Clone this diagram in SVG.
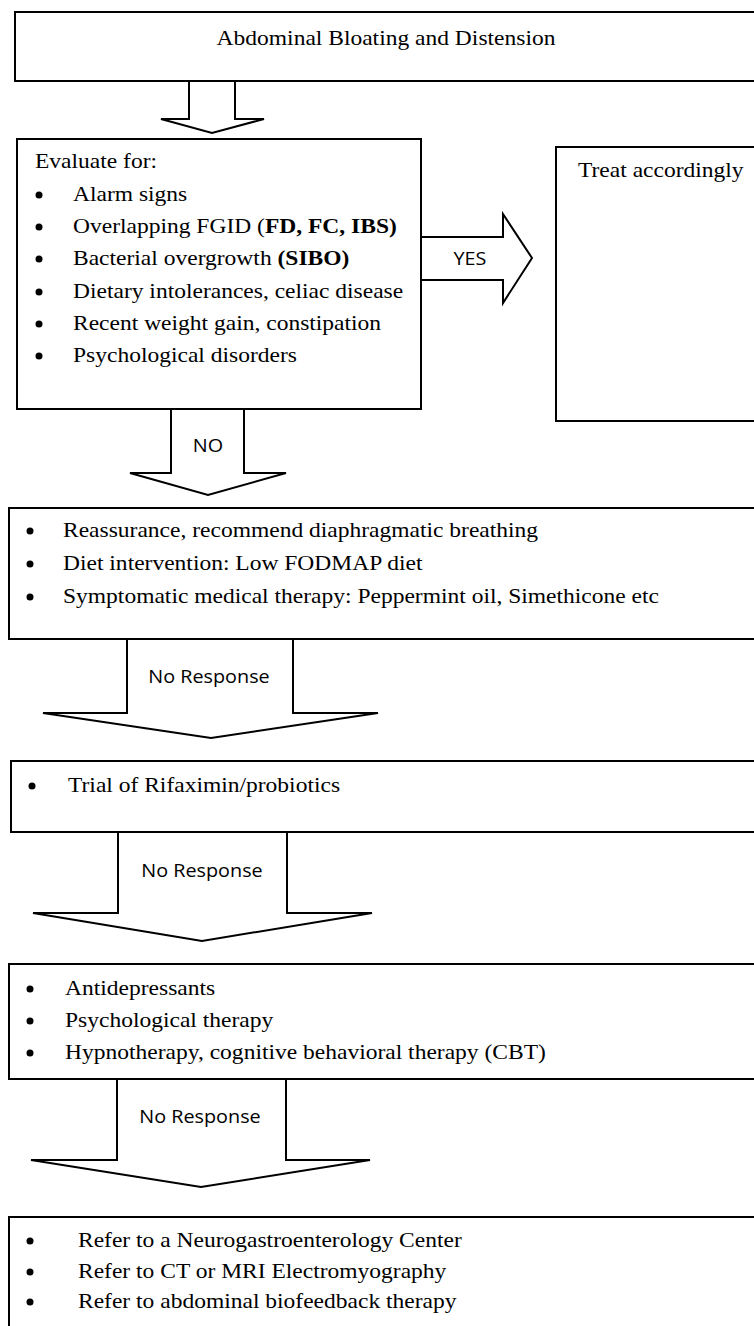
<svg xmlns="http://www.w3.org/2000/svg" width="754" height="1326" viewBox="0 0 754 1326">
<style>
.box{fill:#fff;stroke:#000;stroke-width:2}
.arr{fill:#fff;stroke:#000;stroke-width:2;stroke-linejoin:miter}
.s{font-family:"Liberation Serif","Times New Roman",serif;font-size:21px;fill:#000}
.b{font-weight:bold}
.n{font-family:"Open Sans","Noto Sans",sans-serif;font-size:18px;fill:#000;text-anchor:middle}
.dot{fill:#000}
</style>
<rect width="754" height="1326" fill="#fff"/>
<g id="connectors">
<polyline class="arr" points="189,81 189,119 161,119 212,133 264,119 235,119 235,81"/>
<polyline class="arr" points="421,237 503,237 503,214 532,258 503,303 503,280 421,280"/>
<text class="n" transform="translate(470 265) scale(1.1 1)">YES</text>
<polyline class="arr" points="171,409 171,473 130,473 208,495 286,473 244,473 244,409"/>
<text class="n" transform="translate(208 452) scale(1.1 1)">NO</text>
<polyline class="arr" points="127,639 127,713 43,713 211,738 378,713 293,713 293,639"/>
<text class="n" transform="translate(209 683) scale(1.1 1)">No Response</text>
<polyline class="arr" points="118,832 118,913 33,913 202,941 372,913 287,913 287,832"/>
<text class="n" transform="translate(202 877) scale(1.1 1)">No Response</text>
<polyline class="arr" points="117,1079 117,1160 31,1160 201,1187 370,1160 286,1160 286,1079"/>
<text class="n" transform="translate(200 1123) scale(1.1 1)">No Response</text>
</g>
<g id="start">
<rect class="box" x="15" y="12" width="760" height="69"/>
<text class="s" text-anchor="middle" transform="translate(386 45) scale(1.12 1)">Abdominal Bloating and Distension</text>
</g>
<g id="evaluate">
<rect class="box" x="17" y="139" width="404" height="270"/>
<text class="s" transform="translate(35 168) scale(1.12 1)">Evaluate for:</text>
<circle class="dot" cx="39" cy="195" r="3.5"/>
<text class="s" transform="translate(73 201) scale(1.12 1)">Alarm signs</text>
<circle class="dot" cx="39" cy="227" r="3.5"/>
<text class="s" transform="translate(73 233) scale(1.12 1)">Overlapping FGID (<tspan class="b">FD, FC, IBS)</tspan></text>
<circle class="dot" cx="39" cy="259" r="3.5"/>
<text class="s" transform="translate(73 265) scale(1.12 1)">Bacterial overgrowth <tspan class="b">(SIBO)</tspan></text>
<circle class="dot" cx="39" cy="292" r="3.5"/>
<text class="s" transform="translate(73 298) scale(1.12 1)">Dietary intolerances, celiac disease</text>
<circle class="dot" cx="39" cy="324" r="3.5"/>
<text class="s" transform="translate(73 330) scale(1.12 1)">Recent weight gain, constipation</text>
<circle class="dot" cx="39" cy="356" r="3.5"/>
<text class="s" transform="translate(73 362) scale(1.12 1)">Psychological disorders</text>
</g>
<g id="treat">
<rect class="box" x="556" y="147" width="220" height="274"/>
<text class="s" transform="translate(578 177) scale(1.12 1)">Treat accordingly</text>
</g>
<g id="first-line">
<rect class="box" x="9" y="508" width="770" height="131"/>
<circle class="dot" cx="30" cy="531" r="3.5"/>
<text class="s" transform="translate(63 537) scale(1.12 1)">Reassurance, recommend diaphragmatic breathing</text>
<circle class="dot" cx="30" cy="564" r="3.5"/>
<text class="s" transform="translate(63 570) scale(1.12 1)">Diet intervention: Low FODMAP diet</text>
<circle class="dot" cx="30" cy="597" r="3.5"/>
<text class="s" transform="translate(63 603) scale(1.12 1)">Symptomatic medical therapy: Peppermint oil, Simethicone etc</text>
</g>
<g id="rifaximin">
<rect class="box" x="11" y="761" width="770" height="71"/>
<circle class="dot" cx="32" cy="786" r="3.5"/>
<text class="s" transform="translate(68 792) scale(1.12 1)">Trial of Rifaximin/probiotics</text>
</g>
<g id="psych">
<rect class="box" x="9" y="964" width="770" height="115"/>
<circle class="dot" cx="30" cy="989" r="3.5"/>
<text class="s" transform="translate(65 995) scale(1.12 1)">Antidepressants</text>
<circle class="dot" cx="30" cy="1021" r="3.5"/>
<text class="s" transform="translate(65 1027) scale(1.12 1)">Psychological therapy</text>
<circle class="dot" cx="30" cy="1053" r="3.5"/>
<text class="s" transform="translate(65 1059) scale(1.12 1)">Hypnotherapy, cognitive behavioral therapy (CBT)</text>
</g>
<g id="refer">
<rect class="box" x="9" y="1217" width="770" height="130"/>
<circle class="dot" cx="30" cy="1241" r="3.5"/>
<text class="s" transform="translate(78 1247) scale(1.12 1)">Refer to a Neurogastroenterology Center</text>
<circle class="dot" cx="30" cy="1272" r="3.5"/>
<text class="s" transform="translate(78 1278) scale(1.12 1)">Refer to CT or MRI Electromyography</text>
<circle class="dot" cx="30" cy="1302" r="3.5"/>
<text class="s" transform="translate(78 1308) scale(1.12 1)">Refer to abdominal biofeedback therapy</text>
</g>
</svg>
